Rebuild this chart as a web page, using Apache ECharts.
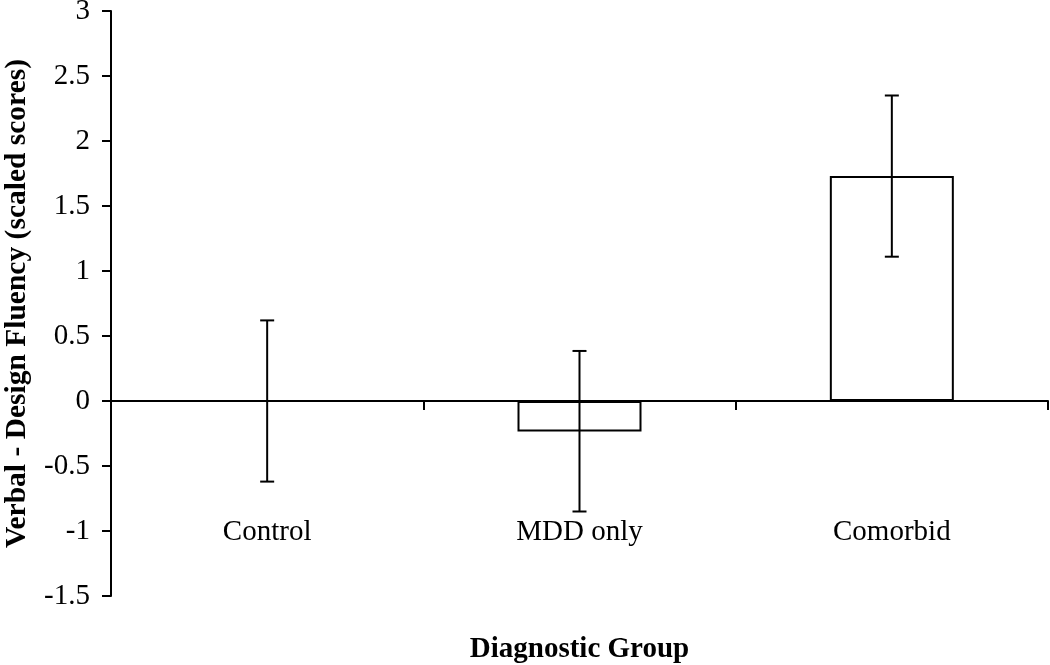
<!DOCTYPE html>
<html>
<head>
<meta charset="utf-8">
<script src="https://cdn.jsdelivr.net/npm/echarts@6/dist/echarts.min.js"></script>
<style>
  html, body { margin: 0; padding: 0; background: #fff; }
  #chart { width: 1050px; height: 665px; }
</style>
</head>
<body>
<div id="chart"></div>
<script>
const groups = ['Control', 'MDD only', 'Comorbid']
const means = [0, -0.235, 1.73]
const errHigh = [0.62, 0.385, 2.35]
const errLow = [-0.62, -0.85, 1.11]
const yTicks = { min: -1.5, max: 3, interval: 0.5 }

const serif = "'Liberation Serif', 'Times New Roman', serif"
const chart = echarts.init(document.getElementById('chart'))

// axis line sits on zero; labels/name are placed from the grid bottom
chart.setOption({
  animation: false,
  grid: { left: 111, right: 2, top: 11, bottom: 69, containLabel: false, outerBoundsMode: 'none' },
  xAxis: {
    type: 'category',
    data: groups,
    axisLine: { onZero: true, lineStyle: { color: '#000', width: 2 } },
    axisTick: { show: true, length: 9, lineStyle: { color: '#000', width: 2 } },
    axisLabel: { color: '#000', fontFamily: serif, fontSize: 29, margin: -78 },
    name: 'Diagnostic Group',
    nameLocation: 'middle',
    nameGap: 39,
    nameTextStyle: { color: '#000', fontFamily: serif, fontSize: 29, fontWeight: 'bold' }
  },
  yAxis: {
    type: 'value',
    min: yTicks.min,
    max: yTicks.max,
    interval: yTicks.interval,
    splitLine: { show: false },
    axisLine: { show: true, lineStyle: { color: '#000', width: 2 } },
    axisTick: { show: true, length: 9, lineStyle: { color: '#000', width: 2 } },
    axisLabel: { color: '#000', fontFamily: serif, fontSize: 29, margin: 21 },
    name: 'Verbal - Design Fluency (scaled scores)',
    nameLocation: 'middle',
    nameGap: 79,
    nameTextStyle: { color: '#000', fontFamily: serif, fontSize: 29.5, fontWeight: 'bold' }
  },
  series: [
    {
      type: 'bar',
      data: means,
      barWidth: 124,
      itemStyle: { color: '#fff', borderColor: '#000', borderWidth: 2 }
    },
    {
      type: 'custom',
      data: groups.map((g, i) => [i, errLow[i], errHigh[i]]),
      encode: { x: 0, y: [1, 2] },
      z: 5,
      renderItem: (params, api) => {
        const lo = api.coord([api.value(0), api.value(1)])
        const hi = api.coord([api.value(0), api.value(2)])
        const half = 7
        const style = { stroke: '#000', lineWidth: 2, fill: null }
        return {
          type: 'group',
          children: [
            { type: 'line', shape: { x1: hi[0], y1: hi[1], x2: lo[0], y2: lo[1] }, style },
            { type: 'line', shape: { x1: hi[0] - half, y1: hi[1], x2: hi[0] + half, y2: hi[1] }, style },
            { type: 'line', shape: { x1: lo[0] - half, y1: lo[1], x2: lo[0] + half, y2: lo[1] }, style }
          ]
        }
      }
    }
  ]
})
</script>
</body>
</html>
